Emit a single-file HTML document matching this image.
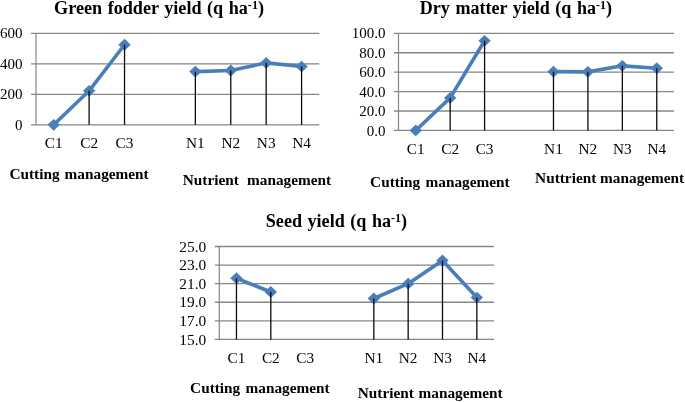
<!DOCTYPE html>
<html><head><meta charset="utf-8"><title>Yield charts</title>
<style>
html,body{margin:0;padding:0;background:#fff;}
body{width:685px;height:402px;overflow:hidden;}
svg{display:block;font-family:"Liberation Serif", "DejaVu Serif", serif;fill:#000;}
svg text{fill:#000;}
</style></head><body>
<svg width="685" height="402" viewBox="0 0 685 402">
<rect width="685" height="402" fill="#fff"/>
<g><line x1="31.00" y1="124.80" x2="319.30" y2="124.80" stroke="#868686" stroke-width="1.3"/>
<text x="22.40" y="129.90" text-anchor="end" font-size="15.0">0</text>
<line x1="31.00" y1="94.30" x2="319.30" y2="94.30" stroke="#868686" stroke-width="1.3"/>
<text x="22.40" y="99.40" text-anchor="end" font-size="15.0">200</text>
<line x1="31.00" y1="63.80" x2="319.30" y2="63.80" stroke="#868686" stroke-width="1.3"/>
<text x="22.40" y="68.90" text-anchor="end" font-size="15.0">400</text>
<line x1="31.00" y1="33.30" x2="319.30" y2="33.30" stroke="#868686" stroke-width="1.3"/>
<text x="22.40" y="38.40" text-anchor="end" font-size="15.0">600</text>
<line x1="36.00" y1="33.30" x2="36.00" y2="124.80" stroke="#868686" stroke-width="1.2"/>
<polyline fill="none" stroke="#4a7ebb" stroke-width="3.6" stroke-linejoin="round" stroke-linecap="round" points="53.71,124.80 89.12,90.79 124.53,44.74"/>
<polyline fill="none" stroke="#4a7ebb" stroke-width="3.6" stroke-linejoin="round" stroke-linecap="round" points="195.36,71.58 230.77,70.51 266.18,62.88 301.59,66.54"/>
<path d="M53.71 118.90L59.91 124.80L53.71 130.70L47.51 124.80Z" fill="#4a7ebb"/>
<path d="M89.12 84.89L95.32 90.79L89.12 96.69L82.92 90.79Z" fill="#4a7ebb"/>
<path d="M124.53 38.84L130.73 44.74L124.53 50.64L118.33 44.74Z" fill="#4a7ebb"/>
<path d="M195.36 65.68L201.56 71.58L195.36 77.48L189.16 71.58Z" fill="#4a7ebb"/>
<path d="M230.77 64.61L236.97 70.51L230.77 76.41L224.57 70.51Z" fill="#4a7ebb"/>
<path d="M266.18 56.98L272.38 62.88L266.18 68.78L259.98 62.88Z" fill="#4a7ebb"/>
<path d="M301.59 60.64L307.79 66.54L301.59 72.44L295.39 66.54Z" fill="#4a7ebb"/>
<line x1="89.12" y1="90.79" x2="89.12" y2="124.80" stroke="#0a0a0a" stroke-width="1.3"/>
<line x1="124.53" y1="44.74" x2="124.53" y2="124.80" stroke="#0a0a0a" stroke-width="1.3"/>
<line x1="195.36" y1="71.58" x2="195.36" y2="124.80" stroke="#0a0a0a" stroke-width="1.3"/>
<line x1="230.77" y1="70.51" x2="230.77" y2="124.80" stroke="#0a0a0a" stroke-width="1.3"/>
<line x1="266.18" y1="62.88" x2="266.18" y2="124.80" stroke="#0a0a0a" stroke-width="1.3"/>
<line x1="301.59" y1="66.54" x2="301.59" y2="124.80" stroke="#0a0a0a" stroke-width="1.3"/>
<text x="53.71" y="148.00" text-anchor="middle" font-size="15.3">C1</text>
<text x="89.12" y="148.00" text-anchor="middle" font-size="15.3">C2</text>
<text x="124.53" y="148.00" text-anchor="middle" font-size="15.3">C3</text>
<text x="195.36" y="148.00" text-anchor="middle" font-size="15.3">N1</text>
<text x="230.77" y="148.00" text-anchor="middle" font-size="15.3">N2</text>
<text x="266.18" y="148.00" text-anchor="middle" font-size="15.3">N3</text>
<text x="301.59" y="148.00" text-anchor="middle" font-size="15.3">N4</text>
<text x="54.10" y="14.00" font-size="18" font-weight="bold" word-spacing="1" textLength="209.90" lengthAdjust="spacingAndGlyphs">Green fodder yield (q ha<tspan font-size="12" dy="-5.2">-1</tspan><tspan dy="5.2">)</tspan></text>
<text y="179.20" font-size="15.3" font-weight="bold"><tspan x="9.40">Cutting</tspan> <tspan x="64.60">management</tspan></text>
<text y="184.70" font-size="15.3" font-weight="bold"><tspan x="182.80">Nutrient</tspan> <tspan x="247.00">management</tspan></text></g>
<g><line x1="394.00" y1="130.45" x2="674.00" y2="130.45" stroke="#868686" stroke-width="1.3"/>
<text x="385.40" y="135.55" text-anchor="end" font-size="15.0">0.0</text>
<line x1="394.00" y1="111.02" x2="674.00" y2="111.02" stroke="#868686" stroke-width="1.3"/>
<text x="385.40" y="116.12" text-anchor="end" font-size="15.0">20.0</text>
<line x1="394.00" y1="91.59" x2="674.00" y2="91.59" stroke="#868686" stroke-width="1.3"/>
<text x="385.40" y="96.69" text-anchor="end" font-size="15.0">40.0</text>
<line x1="394.00" y1="72.16" x2="674.00" y2="72.16" stroke="#868686" stroke-width="1.3"/>
<text x="385.40" y="77.26" text-anchor="end" font-size="15.0">60.0</text>
<line x1="394.00" y1="52.73" x2="674.00" y2="52.73" stroke="#868686" stroke-width="1.3"/>
<text x="385.40" y="57.83" text-anchor="end" font-size="15.0">80.0</text>
<line x1="394.00" y1="33.30" x2="674.00" y2="33.30" stroke="#868686" stroke-width="1.3"/>
<text x="385.40" y="38.40" text-anchor="end" font-size="15.0">100.0</text>
<line x1="398.50" y1="33.30" x2="398.50" y2="130.45" stroke="#868686" stroke-width="1.2"/>
<polyline fill="none" stroke="#4a7ebb" stroke-width="3.6" stroke-linejoin="round" stroke-linecap="round" points="415.72,130.45 450.16,97.90 484.59,40.78"/>
<polyline fill="none" stroke="#4a7ebb" stroke-width="3.6" stroke-linejoin="round" stroke-linecap="round" points="553.47,71.67 587.91,71.87 622.34,65.85 656.78,68.27"/>
<path d="M415.72 124.55L421.92 130.45L415.72 136.35L409.52 130.45Z" fill="#4a7ebb"/>
<path d="M450.16 92.00L456.36 97.90L450.16 103.80L443.96 97.90Z" fill="#4a7ebb"/>
<path d="M484.59 34.88L490.79 40.78L484.59 46.68L478.39 40.78Z" fill="#4a7ebb"/>
<path d="M553.47 65.77L559.67 71.67L553.47 77.57L547.27 71.67Z" fill="#4a7ebb"/>
<path d="M587.91 65.97L594.11 71.87L587.91 77.77L581.71 71.87Z" fill="#4a7ebb"/>
<path d="M622.34 59.95L628.54 65.85L622.34 71.75L616.14 65.85Z" fill="#4a7ebb"/>
<path d="M656.78 62.37L662.98 68.27L656.78 74.17L650.58 68.27Z" fill="#4a7ebb"/>
<line x1="450.16" y1="97.90" x2="450.16" y2="130.45" stroke="#0a0a0a" stroke-width="1.3"/>
<line x1="484.59" y1="40.78" x2="484.59" y2="130.45" stroke="#0a0a0a" stroke-width="1.3"/>
<line x1="553.47" y1="71.67" x2="553.47" y2="130.45" stroke="#0a0a0a" stroke-width="1.3"/>
<line x1="587.91" y1="71.87" x2="587.91" y2="130.45" stroke="#0a0a0a" stroke-width="1.3"/>
<line x1="622.34" y1="65.85" x2="622.34" y2="130.45" stroke="#0a0a0a" stroke-width="1.3"/>
<line x1="656.78" y1="68.27" x2="656.78" y2="130.45" stroke="#0a0a0a" stroke-width="1.3"/>
<text x="415.72" y="153.70" text-anchor="middle" font-size="15.3">C1</text>
<text x="450.16" y="153.70" text-anchor="middle" font-size="15.3">C2</text>
<text x="484.59" y="153.70" text-anchor="middle" font-size="15.3">C3</text>
<text x="553.47" y="153.70" text-anchor="middle" font-size="15.3">N1</text>
<text x="587.91" y="153.70" text-anchor="middle" font-size="15.3">N2</text>
<text x="622.34" y="153.70" text-anchor="middle" font-size="15.3">N3</text>
<text x="656.78" y="153.70" text-anchor="middle" font-size="15.3">N4</text>
<text x="419.80" y="14.00" font-size="18" font-weight="bold" word-spacing="1" textLength="192.25" lengthAdjust="spacingAndGlyphs">Dry matter yield (q ha<tspan font-size="12" dy="-5.2">-1</tspan><tspan dy="5.2">)</tspan></text>
<text y="187.20" font-size="15.3" font-weight="bold"><tspan x="370.10">Cutting</tspan> <tspan x="425.50">management</tspan></text>
<text y="183.20" font-size="15.3" font-weight="bold"><tspan x="535.10">Nuttrient</tspan> <tspan x="600.10">management</tspan></text></g>
<g><line x1="214.80" y1="339.40" x2="494.00" y2="339.40" stroke="#868686" stroke-width="1.3"/>
<text x="206.30" y="344.50" text-anchor="end" font-size="15.4">15.0</text>
<line x1="214.80" y1="320.82" x2="494.00" y2="320.82" stroke="#868686" stroke-width="1.3"/>
<text x="206.30" y="325.92" text-anchor="end" font-size="15.4">17.0</text>
<line x1="214.80" y1="302.24" x2="494.00" y2="302.24" stroke="#868686" stroke-width="1.3"/>
<text x="206.30" y="307.34" text-anchor="end" font-size="15.4">19.0</text>
<line x1="214.80" y1="283.66" x2="494.00" y2="283.66" stroke="#868686" stroke-width="1.3"/>
<text x="206.30" y="288.76" text-anchor="end" font-size="15.4">21.0</text>
<line x1="214.80" y1="265.08" x2="494.00" y2="265.08" stroke="#868686" stroke-width="1.3"/>
<text x="206.30" y="270.18" text-anchor="end" font-size="15.4">23.0</text>
<line x1="214.80" y1="246.50" x2="494.00" y2="246.50" stroke="#868686" stroke-width="1.3"/>
<text x="206.30" y="251.60" text-anchor="end" font-size="15.4">25.0</text>
<line x1="219.30" y1="246.50" x2="219.30" y2="339.40" stroke="#868686" stroke-width="1.2"/>
<polyline fill="none" stroke="#4a7ebb" stroke-width="3.6" stroke-linejoin="round" stroke-linecap="round" points="236.47,278.27 270.81,292.02"/>
<polyline fill="none" stroke="#4a7ebb" stroke-width="3.6" stroke-linejoin="round" stroke-linecap="round" points="373.82,298.52 408.16,283.66 442.49,260.44 476.83,297.59"/>
<path d="M236.47 272.37L242.67 278.27L236.47 284.17L230.27 278.27Z" fill="#4a7ebb"/>
<path d="M270.81 286.12L277.01 292.02L270.81 297.92L264.61 292.02Z" fill="#4a7ebb"/>
<path d="M373.82 292.62L380.02 298.52L373.82 304.42L367.62 298.52Z" fill="#4a7ebb"/>
<path d="M408.16 277.76L414.36 283.66L408.16 289.56L401.96 283.66Z" fill="#4a7ebb"/>
<path d="M442.49 254.53L448.69 260.44L442.49 266.33L436.29 260.44Z" fill="#4a7ebb"/>
<path d="M476.83 291.69L483.03 297.59L476.83 303.49L470.63 297.59Z" fill="#4a7ebb"/>
<line x1="236.47" y1="278.27" x2="236.47" y2="339.40" stroke="#0a0a0a" stroke-width="1.3"/>
<line x1="270.81" y1="292.02" x2="270.81" y2="339.40" stroke="#0a0a0a" stroke-width="1.3"/>
<line x1="373.82" y1="298.52" x2="373.82" y2="339.40" stroke="#0a0a0a" stroke-width="1.3"/>
<line x1="408.16" y1="283.66" x2="408.16" y2="339.40" stroke="#0a0a0a" stroke-width="1.3"/>
<line x1="442.49" y1="260.44" x2="442.49" y2="339.40" stroke="#0a0a0a" stroke-width="1.3"/>
<line x1="476.83" y1="297.59" x2="476.83" y2="339.40" stroke="#0a0a0a" stroke-width="1.3"/>
<text x="236.47" y="362.70" text-anchor="middle" font-size="15.3">C1</text>
<text x="270.81" y="362.70" text-anchor="middle" font-size="15.3">C2</text>
<text x="305.14" y="362.70" text-anchor="middle" font-size="15.3">C3</text>
<text x="373.82" y="362.70" text-anchor="middle" font-size="15.3">N1</text>
<text x="408.16" y="362.70" text-anchor="middle" font-size="15.3">N2</text>
<text x="442.49" y="362.70" text-anchor="middle" font-size="15.3">N3</text>
<text x="476.83" y="362.70" text-anchor="middle" font-size="15.3">N4</text>
<text x="265.80" y="227.40" font-size="18" font-weight="bold" word-spacing="1" textLength="141.30" lengthAdjust="spacingAndGlyphs">Seed yield (q ha<tspan font-size="12" dy="-5.2">-1</tspan><tspan dy="5.2">)</tspan></text>
<text y="393.20" font-size="15.3" font-weight="bold"><tspan x="190.10">Cutting</tspan> <tspan x="245.50">management</tspan></text>
<text y="398.10" font-size="15.3" font-weight="bold"><tspan x="357.80">Nutrient</tspan> <tspan x="418.50">management</tspan></text></g>
</svg>
</body></html>
